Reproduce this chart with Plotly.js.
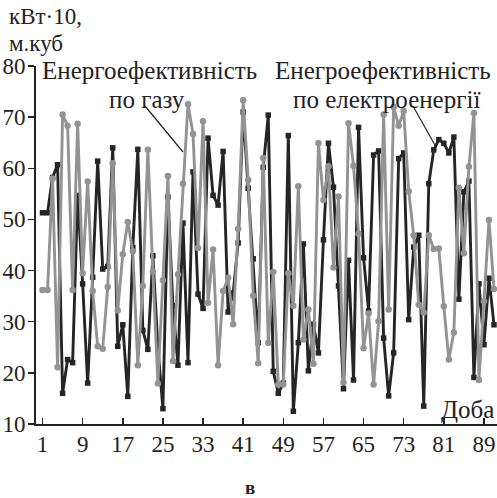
<!DOCTYPE html>
<html>
<head>
<meta charset="utf-8">
<script src="https://cdn.plot.ly/plotly-3.0.1.min.js"></script>
<style>html,body{margin:0;padding:0;background:#fff;}#chart{width:497px;height:498px;}</style>
</head>
<body>
<div id="chart"></div>
<script>
const days = Array.from({length: 91}, (_, i) => i + 1);
const electricity = [51.3,51.3,58.2,60.7,16,22.6,22,54.7,37.4,18,38.7,61.4,40.3,40.8,64,25.2,29.4,15.4,44.5,63.7,28.3,24.6,42.9,25,13,54.4,33.1,21.5,49.3,22,59.3,35.4,32.6,65.9,54.7,52.8,63.3,31.9,35.6,45.4,71,56.1,42.3,25.9,60.2,70.4,20.3,16,18,66.4,12.5,25.9,45.2,20.4,29.5,23.9,46,64.9,56.3,37,16.9,42,18.6,68,42.5,32.1,62.6,63.4,26.8,15.5,23.9,61.9,63,30.4,44.6,46.9,13.5,57,63.6,65.6,64.9,63,66.1,34.4,55.4,57.5,19.1,37.4,25.5,38.5,29.4];
const gas = [36.2,36.2,58,21.1,70.5,68.3,36.2,68.7,39.5,57.4,36,25.2,24.7,36.8,61,32.2,43.2,49.5,43.8,21.5,37,63.6,39.8,17.9,38.1,58.5,22.3,39.3,57,72.5,66.7,44.4,69.2,33.7,44.1,21.5,36,38.6,29.5,48.2,73.3,57.7,35.1,21.9,62,25.9,39.7,17.7,17.7,39.5,33.1,56.5,26.5,32.4,21.8,64.9,53.8,60.4,40.6,54.5,18.1,68.8,60.5,47.2,24.8,31.6,17.7,30.1,70.5,32.4,72,68.3,71.2,55.5,46.9,33.3,31.8,46.9,44.2,44.3,33,22.6,27.9,56.2,43.4,60.3,70.8,18.6,34,49.9,36.4];
const xTicks = [1,9,17,25,33,41,49,57,65,73,81,89];
const yTicks = [10,20,30,40,50,60,70,80];

const F = '"Liberation Serif", "Times New Roman", serif';
const W = 461, H = 358, L = 36, T = 66;
const px = x => (x - L) / W;
const py = y => (T + H - y) / H;

const traces = [
  {x: days, y: electricity, mode: 'lines+markers', line: {color: '#252525', width: 2.9},
   marker: {symbol: 'square', size: 5.5, color: '#252525'}, cliponaxis: false, hoverinfo: 'skip'},
  {x: days, y: gas, mode: 'lines+markers', line: {color: '#939393', width: 2.9},
   marker: {symbol: 'circle', size: 6.5, color: '#939393'}, cliponaxis: false, hoverinfo: 'skip'}
];

const ann = (text, x, y, xa, size) => ({text, xref: 'paper', yref: 'paper', x: px(x), y: py(y),
  xanchor: xa, yanchor: 'middle', showarrow: false, font: {family: F, size: size || 25, color: '#222'}});

const layout = {
  width: 497, height: 498,
  margin: {l: L, r: 0, t: T, b: 498 - T - H},
  paper_bgcolor: '#fff', plot_bgcolor: '#fff',
  showlegend: false,
  font: {family: F},
  xaxis: {range: [-0.3, 91.6], tickvals: xTicks, ticks: 'inside', ticklen: 6, tickwidth: 1.5,
    tickcolor: '#222', showline: true, linecolor: '#222', linewidth: 2, showgrid: false, zeroline: false,
    tickfont: {family: F, size: 23, color: '#222'}, ticklabelstandoff: -2, fixedrange: true},
  yaxis: {range: [10, 80], tickvals: yTicks, ticks: 'outside', ticklen: 6, tickwidth: 1.5,
    tickcolor: '#222', showline: true, linecolor: '#222', linewidth: 2, showgrid: false, zeroline: false,
    tickfont: {family: F, size: 23, color: '#222'}, ticklabelstandoff: -2, fixedrange: true},
  annotations: [
    ann('кВт·10,', 7, 16, 'left', 23),
    ann('м.куб', 7, 44, 'left', 23),
    ann('Енергоефективність', 40, 70, 'left'),
    ann('по газу', 147, 100, 'center'),
    ann('Енегроефективність', 493, 70, 'right'),
    ann('по електроенергії', 386, 100, 'center'),
    ann('Доба', 496, 409, 'right'),
    ann('<b>в</b>', 250, 487, 'center', 19)
  ],
  shapes: [
    {type: 'line', xref: 'paper', yref: 'paper', x0: px(145), y0: py(106), x1: px(183), y1: py(152), line: {color: '#222', width: 1.2}},
    {type: 'line', xref: 'paper', yref: 'paper', x0: px(413), y0: py(106), x1: px(436), y1: py(147), line: {color: '#222', width: 1.2}}
  ]
};

Plotly.newPlot('chart', traces, layout, {staticPlot: true, displayModeBar: false});
</script>
</body>
</html>
